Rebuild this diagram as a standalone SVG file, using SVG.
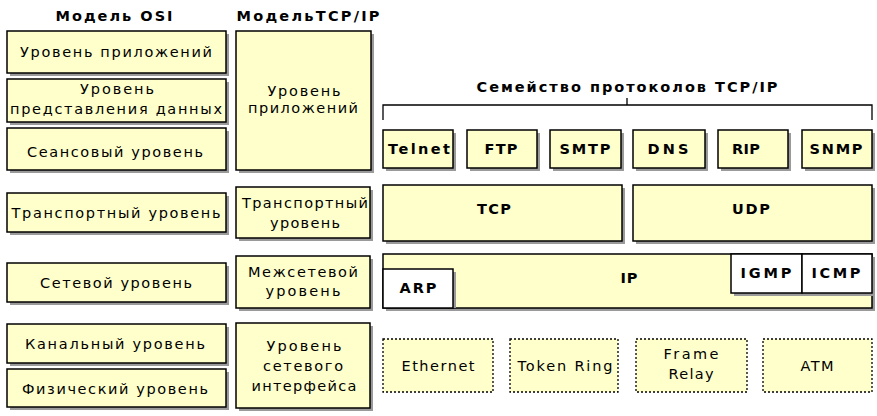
<svg xmlns="http://www.w3.org/2000/svg" width="877" height="416" viewBox="0 0 877 416">
<style>
  .box{fill:#FFFFCC;stroke:#000;stroke-width:1.5}
  .wbox{fill:#FFFFFF;stroke:#000;stroke-width:1.5}
  .sh{fill:#9a9a9a}
  .dash{fill:#FFFFCC;stroke:#000;stroke-width:1.3;stroke-dasharray:2 2}
  text{font-family:"DejaVu Sans","Verdana",sans-serif;font-size:14.5px;fill:#000;text-anchor:middle}
  .b{font-weight:bold;font-size:14.5px}
  .h{font-weight:bold;font-size:14.5px}
  .conn{fill:none;stroke:#000;stroke-width:1.3}
</style>
<rect width="877" height="416" fill="#fff"/>

<g id="headings">
  <text class="h" x="114" y="21" textLength="117" lengthAdjust="spacing">Модель OSI</text>
  <text class="h" x="308" y="21" textLength="143" lengthAdjust="spacing">МодельTCP/IP</text>
  <text class="h" x="627" y="92" textLength="301" lengthAdjust="spacing">Семейство протоколов TCP/IP</text>
</g>

<!-- OSI column -->
<g id="osi-app">
  <rect class="sh" x="10" y="34" width="219" height="42"/>
  <rect class="box" x="7" y="31" width="219" height="42"/>
  <text x="116" y="57" textLength="192" lengthAdjust="spacing">Уровень приложений</text>
</g>
<g id="osi-pres">
  <rect class="sh" x="10" y="82" width="219" height="43"/>
  <rect class="box" x="7" y="79" width="219" height="43"/>
  <text x="117" y="94" textLength="74" lengthAdjust="spacing">Уровень</text>
  <text x="116" y="114" textLength="212" lengthAdjust="spacing">представления данных</text>
</g>
<g id="osi-session">
  <rect class="sh" x="10" y="131" width="219" height="42"/>
  <rect class="box" x="7" y="128" width="219" height="42"/>
  <text x="115" y="157" textLength="176" lengthAdjust="spacing">Сеансовый уровень</text>
</g>
<g id="osi-transport">
  <rect class="sh" x="10" y="196" width="219" height="39"/>
  <rect class="box" x="7" y="193" width="219" height="39"/>
  <text x="116" y="218" textLength="209" lengthAdjust="spacing">Транспортный уровень</text>
</g>
<g id="osi-network">
  <rect class="sh" x="10" y="266" width="219" height="39"/>
  <rect class="box" x="7" y="263" width="219" height="39"/>
  <text x="116" y="288" textLength="152" lengthAdjust="spacing">Сетевой уровень</text>
</g>
<g id="osi-datalink">
  <rect class="sh" x="10" y="327" width="219" height="39"/>
  <rect class="box" x="7" y="324" width="219" height="39"/>
  <text x="115" y="349" textLength="180" lengthAdjust="spacing">Канальный уровень</text>
</g>
<g id="osi-physical">
  <rect class="sh" x="10" y="372" width="219" height="38"/>
  <rect class="box" x="7" y="369" width="219" height="38"/>
  <text x="115" y="394" textLength="186" lengthAdjust="spacing">Физический уровень</text>
</g>

<!-- TCP/IP model column -->
<g id="tcp-app">
  <rect class="sh" x="239" y="34" width="135" height="139"/>
  <rect class="box" x="236" y="31" width="135" height="139"/>
  <text x="304" y="96" textLength="73" lengthAdjust="spacing">Уровень</text>
  <text x="303" y="113" textLength="110" lengthAdjust="spacing">приложений</text>
</g>
<g id="tcp-transport">
  <rect class="sh" x="239" y="190" width="134" height="51"/>
  <rect class="box" x="236" y="187" width="134" height="51"/>
  <text x="305" y="208" textLength="126" lengthAdjust="spacing">Транспортный</text>
  <text x="305" y="228" textLength="70" lengthAdjust="spacing">уровень</text>
</g>
<g id="tcp-internet">
  <rect class="sh" x="239" y="259" width="134" height="52"/>
  <rect class="box" x="236" y="256" width="134" height="52"/>
  <text x="303" y="277" textLength="110" lengthAdjust="spacing">Межсетевой</text>
  <text x="303" y="296" textLength="75" lengthAdjust="spacing">уровень</text>
</g>
<g id="tcp-netif">
  <rect class="sh" x="239" y="326" width="134" height="85"/>
  <rect class="box" x="236" y="323" width="134" height="85"/>
  <text x="304" y="351" textLength="75" lengthAdjust="spacing">Уровень</text>
  <text x="303" y="371" textLength="80" lengthAdjust="spacing">сетевого</text>
  <text x="304" y="391" textLength="105" lengthAdjust="spacing">интерфейса</text>
</g>

<!-- connectors: suite bracket -->
<g id="connectors">
  <path class="conn" d="M383,120 V105 H872 V120 M627,105 V98"/>
</g>

<!-- application protocols -->
<g id="telnet">
  <rect class="sh" x="386" y="133" width="70" height="38"/>
  <rect class="box" x="383" y="130" width="70" height="38"/>
  <text class="b" x="419" y="154" textLength="62" lengthAdjust="spacing">Telnet</text>
</g>
<g id="ftp">
  <rect class="sh" x="470" y="133" width="70" height="38"/>
  <rect class="box" x="467" y="130" width="70" height="38"/>
  <text class="b" x="501" y="154" textLength="33" lengthAdjust="spacing">FTP</text>
</g>
<g id="smtp">
  <rect class="sh" x="553" y="133" width="71" height="38"/>
  <rect class="box" x="550" y="130" width="71" height="38"/>
  <text class="b" x="585" y="154" textLength="51" lengthAdjust="spacing">SMTP</text>
</g>
<g id="dns">
  <rect class="sh" x="636" y="133" width="72" height="38"/>
  <rect class="box" x="633" y="130" width="72" height="38"/>
  <text class="b" x="668" y="154" textLength="41" lengthAdjust="spacing">DNS</text>
</g>
<g id="rip">
  <rect class="sh" x="721" y="133" width="70" height="38"/>
  <rect class="box" x="718" y="130" width="70" height="38"/>
  <text class="b" x="746" y="154" textLength="28" lengthAdjust="spacing">RIP</text>
</g>
<g id="snmp">
  <rect class="sh" x="805" y="133" width="70" height="38"/>
  <rect class="box" x="802" y="130" width="70" height="38"/>
  <text class="b" x="836" y="154" textLength="53" lengthAdjust="spacing">SNMP</text>
</g>

<!-- transport -->
<g id="tcp">
  <rect class="sh" x="386" y="188" width="239" height="56"/>
  <rect class="box" x="383" y="185" width="239" height="56"/>
  <text class="b" x="494" y="214" textLength="34" lengthAdjust="spacing">TCP</text>
</g>
<g id="udp">
  <rect class="sh" x="636" y="188" width="239" height="56"/>
  <rect class="box" x="633" y="185" width="239" height="56"/>
  <text class="b" x="751" y="214" textLength="38" lengthAdjust="spacing">UDP</text>
</g>

<!-- internet -->
<g id="ip">
  <rect class="sh" x="386" y="257" width="489" height="54"/>
  <rect class="box" x="383" y="254" width="489" height="54"/>
  <text class="b" x="629" y="283" textLength="17" lengthAdjust="spacing">IP</text>
</g>
<g id="arp">
  <rect class="sh" x="386" y="272" width="70" height="36"/>
  <rect class="wbox" x="383" y="269" width="70" height="39"/>
  <text class="b" x="418" y="293" textLength="37" lengthAdjust="spacing">ARP</text>
</g>
<g id="igmp">
  <rect class="sh" x="734" y="257" width="71" height="39"/>
  <rect class="wbox" x="731" y="254" width="71" height="39"/>
  <text class="b" x="766" y="278" textLength="51" lengthAdjust="spacing">IGMP</text>
</g>
<g id="icmp">
  <rect class="sh" x="805" y="257" width="70" height="39"/>
  <rect class="wbox" x="802" y="254" width="70" height="39"/>
  <text class="b" x="836" y="278" textLength="49" lengthAdjust="spacing">ICMP</text>
</g>

<!-- network interface technologies -->
<g id="ethernet">
  <rect class="dash" x="383" y="339" width="110" height="53"/>
  <text x="438" y="371" textLength="73" lengthAdjust="spacing">Ethernet</text>
</g>
<g id="tokenring">
  <rect class="dash" x="510" y="339" width="108" height="53"/>
  <text x="565" y="371" textLength="95" lengthAdjust="spacing">Token Ring</text>
</g>
<g id="framerelay">
  <rect class="dash" x="636" y="339" width="111" height="53"/>
  <text x="691" y="359" textLength="55" lengthAdjust="spacing">Frame</text>
  <text x="691" y="379" textLength="45" lengthAdjust="spacing">Relay</text>
</g>
<g id="atm">
  <rect class="dash" x="763" y="339" width="109" height="53"/>
  <text x="817" y="371" textLength="33" lengthAdjust="spacing">ATM</text>
</g>
</svg>
